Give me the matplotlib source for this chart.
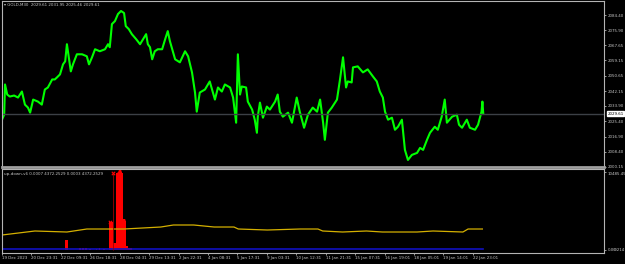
#!/usr/bin/env python3
import matplotlib
matplotlib.use("Agg")
import matplotlib.pyplot as plt
import matplotlib.transforms as mtransforms

# price series (bar index, close)
bars = [0, 5, 7, 12, 18, 28, 37, 46, 53, 60, 65, 72, 83, 92, 99, 106, 116, 122, 127, 134,
        141, 146, 150, 155, 159, 164, 173, 185, 196, 201, 208, 215, 226, 238, 245, 249, 254,
        261, 268, 275, 282, 286, 293, 300, 310, 319, 326, 333, 337, 342, 347, 353, 360, 370,
        377, 383, 388, 400, 411, 423, 430, 439, 446, 450, 457, 469, 480, 492, 499, 508, 515,
        527, 534, 541, 545, 550, 554, 564, 568, 578, 584, 589, 591, 596, 603, 612, 619, 631,
        637, 642, 649, 661, 670, 681, 688, 698, 707, 718, 728, 735, 742, 746, 753, 762, 774,
        781, 788, 795, 799, 808, 811, 822, 834, 845, 857, 866, 873, 880, 885, 892, 901, 908,
        915, 924, 931, 938, 947, 959, 966, 973, 982, 989, 1000, 1007, 1016, 1023, 1028, 1040,
        1051, 1056, 1063, 1074, 1081, 1093, 1100, 1108, 1110, 1112]
close = [2026.25, 2029.04, 2045.82, 2040.23, 2039.11, 2039.67, 2038.55, 2041.90, 2034.63,
         2032.96, 2030.16, 2037.43, 2036.31, 2034.63, 2043.02, 2044.14, 2048.61, 2048.61,
         2049.73, 2051.41, 2057.00, 2058.68, 2068.19, 2059.80, 2053.09, 2057.00, 2062.59,
         2062.59, 2061.48, 2057.00, 2060.92, 2065.39, 2064.27, 2065.39, 2068.19, 2066.51,
         2079.37, 2081.05, 2084.96, 2086.64, 2085.52, 2078.25, 2076.57, 2073.78, 2070.98,
         2068.19, 2070.98, 2073.78, 2068.19, 2066.51, 2059.80, 2064.27, 2065.39, 2065.39,
         2070.98, 2075.46, 2069.86, 2059.80, 2058.12, 2064.27, 2061.48, 2052.53, 2041.34,
         2030.72, 2041.34, 2043.02, 2047.50, 2037.43, 2044.14, 2041.90, 2045.82, 2044.14,
         2038.55, 2024.57, 2062.59, 2040.23, 2044.70, 2044.14, 2036.31, 2031.84, 2026.25,
         2018.98, 2027.92, 2035.75, 2027.36, 2033.52, 2031.84, 2036.31, 2040.23, 2030.72,
         2027.92, 2030.16, 2024.57, 2038.55, 2030.72, 2021.77, 2029.04, 2032.96, 2030.72,
         2037.43, 2024.57, 2015.06, 2030.16, 2032.96, 2037.43, 2048.61, 2060.92, 2044.14,
         2047.50, 2046.94, 2055.32, 2055.88, 2052.53, 2054.21, 2050.29, 2047.50, 2041.90,
         2038.55, 2030.72, 2026.25, 2027.36, 2020.65, 2022.33, 2026.25, 2009.47, 2003.88,
         2006.67, 2007.79, 2010.59, 2009.47, 2015.06, 2018.98, 2022.33, 2020.65, 2027.92,
         2037.43, 2024.57, 2027.92, 2029.04, 2023.45, 2021.77, 2026.25, 2021.77, 2020.65,
         2023.45, 2030.72, 2036.31, 2029.61]
last_price = 2029.61
price_ticks = [2084.40, 2075.90, 2067.65, 2059.15, 2050.65, 2042.15, 2033.90, 2025.40,
               2016.90, 2008.40, 2000.15]

# indicator window
yel_bars = [0, 76, 150, 196, 282, 367, 396, 443, 490, 536, 546, 613, 689, 730, 741, 787,
            842, 879, 959, 996, 1065, 1077, 1110]
yel_vals = [2016, 2554, 2419, 2822, 2822, 3091, 3360, 3360, 3091, 3091, 2822, 2688, 2822,
            2822, 2554, 2419, 2554, 2419, 2419, 2554, 2419, 2822, 2822]
blue_bars = [0, 1112]
blue_vals = [134, 134]
red_bars = [148, 150, 152, 180, 187, 194, 203, 219, 226, 236, 249, 252, 254, 256, 259, 261,
            263, 266, 268, 270, 273, 275, 277, 280, 282, 284, 286, 289, 291, 296, 300]
red_vals = [1344, 1344, 1344, 270, 270, 270, 200, 200, 270, 200, 3763, 3763, 3763, 3763, 940,
            940, 940, 10350, 10350, 10350, 10350, 10350, 10350, 3763, 3763, 3763, 3763, 600,
            300, 300, 270]
arrow_x_bars = [256, 249]
arrow_x_vals = [10350, 3763]
arrow_d_bars = [271, 280]
arrow_d_vals = [10350, 3763]

time_labels = ["19 Dec 2023", "20 Dec 23:31", "22 Dec 09:31", "26 Dec 18:31", "28 Dec 04:31",
               "29 Dec 13:31", "2 Jan 22:31", "4 Jan 08:31", "5 Jan 17:31", "9 Jan 03:31",
               "10 Jan 12:31", "11 Jan 21:31", "15 Jan 07:31", "16 Jan 19:01", "18 Jan 05:01",
               "19 Jan 14:01", "22 Jan 23:01"]
bars_per_label = 68

W, H = 625, 264
fg = '#c8c8c8'
frame = '#b4b4b4'
fs = 2.9

fig = plt.figure(figsize=(W / 100, H / 100), dpi=100, facecolor='black')
ax = fig.add_axes([2 / W, 1 - 167 / H, 602 / W, 166 / H], facecolor='black')
sub = fig.add_axes([2 / W, 1 - 253 / H, 602 / W, 84 / H], facecolor='black')

xmax = 1391
for a in (ax, sub):
    a.set_xlim(0, xmax)
    for s in a.spines.values():
        s.set_color(frame)
        s.set_linewidth(0.8)
    a.yaxis.tick_right()
    a.tick_params(axis='y', colors=frame, labelcolor=fg, labelsize=fs, length=1.5, width=0.6, pad=1)

# main price chart
ax.plot(bars, close, color='#00ff00', lw=1.5)
ax.axhline(last_price, color='#3c4046', lw=1.0)
ax.set_ylim(1999.96, 2092.2)
ax.set_yticks(price_ticks)
ax.set_yticklabels(['%.2f' % p for p in price_ticks])
ax.set_xticks([])
ax.spines['bottom'].set_linewidth(2.0)
ax.spines['bottom'].set_color('#a0a0a0')
tr = mtransforms.blended_transform_factory(ax.transAxes, ax.transData)
ax.text(1.006, last_price, '%.2f' % last_price, transform=tr, fontsize=fs, color='black',
        va='center', ha='left', bbox=dict(boxstyle='square,pad=0.15', fc='white', ec='white'))
ax.text(0.004, 0.985, '\u25be GOLD,M30  2029.61 2031.95 2025.46 2029.61', transform=ax.transAxes,
        fontsize=fs, color=fg, va='top', ha='left')

# indicator window
sub.set_ylim(-403, 10888)
sub.plot(yel_bars, yel_vals, color='#d4b000', lw=0.9)
sub.plot(blue_bars, blue_vals, color='#1010c0', lw=1.2)
sub.bar(red_bars, red_vals, width=3.0, color='red', linewidth=0)
sub.vlines(256, 0, 10350, color='#a00000', lw=0.6)
sub.scatter(arrow_x_bars, arrow_x_vals, marker='x', s=6, color='red', linewidths=0.8, zorder=5)
sub.scatter(arrow_d_bars, arrow_d_vals, marker='$\u01e6$', s=14, color='red', zorder=5)
sub.set_yticks([10485.45, 0])
sub.set_yticklabels(['10485.450', '0.00'])
for t in sub.get_yticklabels():
    t.set_va('top') if t.get_text() != '0.00' else t.set_va('center')
trs = mtransforms.blended_transform_factory(sub.transAxes, sub.transData)
sub.text(1.016, 0, '.0214', transform=trs, fontsize=fs, color=fg, va='center', ha='left')
sub.text(0.004, 0.96, 'up-down-v6 0.0007 4372.2529 0.0003 4372.2529', transform=sub.transAxes,
         fontsize=fs, color=fg, va='top', ha='left')

ticks = [i * bars_per_label for i in range(len(time_labels))]
sub.set_xticks(ticks)
sub.set_xticklabels(time_labels)
sub.tick_params(axis='x', colors=frame, labelcolor=fg, labelsize=fs, length=1.5, width=0.6, pad=1)
for t in sub.get_xticklabels():
    t.set_ha('left')

fig.savefig('out.png', dpi=100, facecolor='black')
